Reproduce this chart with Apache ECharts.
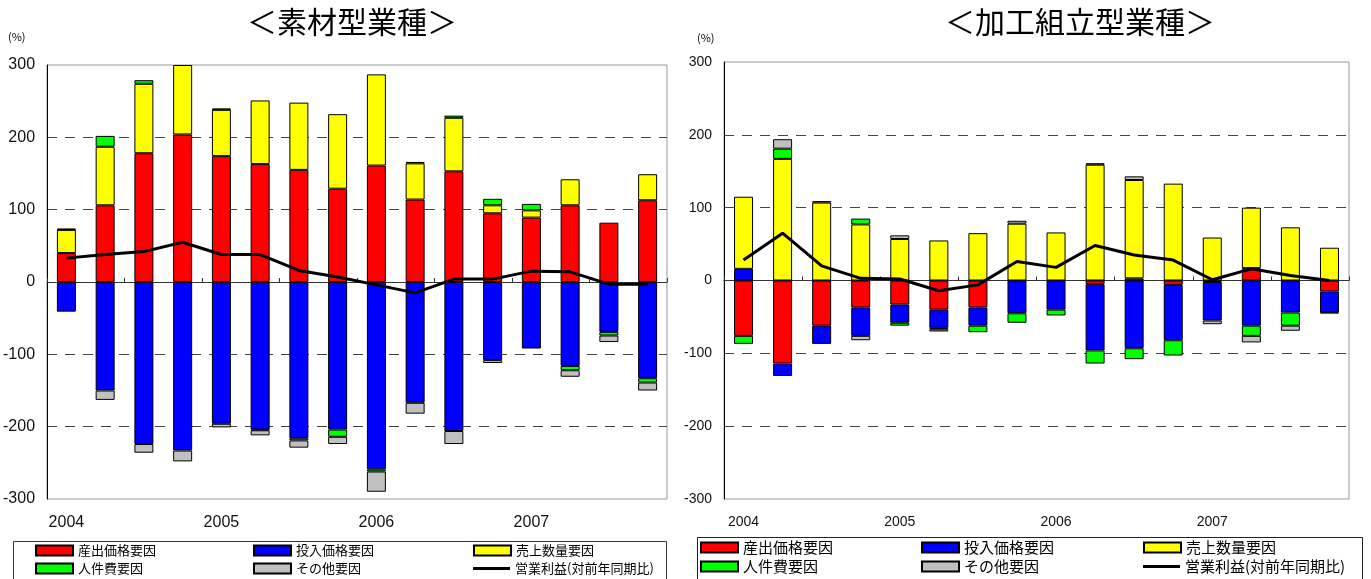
<!DOCTYPE html>
<html>
<head>
<meta charset="utf-8">
<script src="https://cdn.jsdelivr.net/npm/echarts@6/dist/echarts.min.js"></script>
<style>
  html, body { margin: 0; padding: 0; background: #fff; }
  #chart { width: 1371px; height: 579px; }
</style>
</head>
<body>
<div id="chart"></div>
<script>
// Quarterly periods, 2004 Q1 – 2007 Q4
const categories = [
  '2004Q1', '2004Q2', '2004Q3', '2004Q4',
  '2005Q1', '2005Q2', '2005Q3', '2005Q4',
  '2006Q1', '2006Q2', '2006Q3', '2006Q4',
  '2007Q1', '2007Q2', '2007Q3', '2007Q4'
];
const yTicks = { min: -300, max: 300, interval: 100 };

// Factor names (legend)
const factorNames = ['産出価格要因', '投入価格要因', '売上数量要因', '人件費要因', 'その他要因'];
const profitName = '営業利益(対前年同期比)';
const factorColors = ['#ff0000', '#0000ff', '#ffff00', '#00ff00', '#c0c0c0'];

// 素材型業種 (materials industries), contributions in %
const matOutputPrice = [40, 106, 178, 204, 174, 163, 155, 129, 161, 114, 153, 95, 89, 106, 82, 113];
const matInputPrice  = [-41, -150, -224, -233, -196, -204, -216, -204, -259, -167, -206, -108, -92, -116, -69, -133];
const matVolume      = [32, 81, 96, 96, 64, 88, 93, 103, 126, 50, 74, 11, 10, 36, 0, 36];
const matLabor       = [0, 15, 5, 0, 2, -1, -3, -10, -3, 2, 3, 9, 9, -6, -5, -6];
const matOther       = [2, -13, -12, -15, -5, -7, -10, -10, -28, -15, -18, -4, 0, -9, -9, -11];
const matProfit      = [33, 38, 42, 55, 38, 38, 16, 7, -4, -15, 4, 4, 15, 14, -3, -3];

// 加工組立型業種 (processing & assembly industries), contributions in %
const asmOutputPrice = [-76, -114, -62, -37, -33, -40, -37, 0, 0, -5, 3, -6, -2, 17, 0, -15];
const asmInputPrice  = [16, -17, -25, -39, -25, -25, -25, -45, -40, -91, -93, -76, -53, -62, -44, -29];
const asmVolume      = [99, 167, 107, 77, 57, 55, 65, 78, 66, 159, 135, 133, 59, 83, 73, 45];
const asmLabor       = [-11, 14, 0, 8, -4, -2, -9, -13, -8, -18, -15, -21, 0, -14, -18, 0];
const asmOther       = [0, 13, 2, -6, 5, -3, 0, 4, 0, 2, 5, 0, -5, -9, -7, -1];
const asmProfit      = [28, 65, 20, 3, 2, -14, -6, 26, 18, 48, 35, 28, 1, 16, 7, 0];

const JP = '"Noto Sans CJK JP", "Noto Sans", sans-serif';
const NUM = '"Liberation Sans", Arial, sans-serif';

const chart = echarts.init(document.getElementById('chart'), null, { renderer: 'canvas' });

function yearLabel(v) {
  return v.endsWith('Q1') ? v.slice(0, 4) : '';
}

function makeXAxes(gridIndex, fontSize) {
  return [
    { // year labels along the bottom of the plot
      type: 'category', gridIndex, data: categories, position: 'bottom',
      axisLine: { show: false, onZero: false }, axisTick: { show: false },
      axisLabel: { interval: 0, formatter: yearLabel, margin: 16, fontSize, fontFamily: NUM, color: '#111' }
    },
    { // zero line with quarter ticks
      type: 'category', gridIndex, data: categories, position: 'top',
      axisLine: { show: true, onZero: true, lineStyle: { color: '#333', width: 1 } },
      axisTick: { show: true, inside: false, length: 4, lineStyle: { color: '#333' } },
      axisLabel: { show: false }
    }
  ];
}

function makeYAxis(gridIndex, fontSize, margin) {
  return {
    type: 'value', gridIndex, min: yTicks.min, max: yTicks.max, interval: yTicks.interval,
    axisLine: { show: true, lineStyle: { color: '#000', width: 1 } },
    axisTick: { show: false },
    axisLabel: { fontSize, fontFamily: NUM, color: '#111', margin },
    splitLine: { show: true, showMinLine: false, showMaxLine: false,
      lineStyle: { color: '#444', width: 1, type: [10, 8] } }
  };
}

function makeSeries(gridIdx, stackId, factorData, profit) {
  const xIdx = gridIdx * 2 + 1;
  const out = factorData.map((arr, i) => ({
    type: 'bar', name: factorNames[i], stack: stackId,
    xAxisIndex: xIdx, yAxisIndex: gridIdx,
    barWidth: 19,
    itemStyle: { color: factorColors[i], borderColor: '#000', borderWidth: 1 },
    data: arr.map(v => (v === 0 ? '-' : v)),
    animation: false
  }));
  out.push({
    type: 'line', name: profitName, xAxisIndex: xIdx, yAxisIndex: gridIdx,
    data: profit, symbol: 'none', showSymbol: false, z: 10,
    lineStyle: { color: '#000', width: 3 }, itemStyle: { color: '#000' },
    animation: false
  });
  return out;
}

function legendItem(name, left, top, fontSize) {
  const item = {
    data: [name], left, top, padding: 0,
    itemWidth: 37, itemHeight: 10,
    icon: 'rect', selectedMode: false,
    textStyle: { fontSize, fontFamily: JP, color: '#000' }
  };
  if (name === profitName) {
    item.itemHeight = 3;
    item.itemStyle = { color: '#000', borderWidth: 0 };
  }
  return item;
}

const legendNames = factorNames.concat([profitName]);
const leftCols = [35, 253, 473];
const rightCols = [700, 921, 1143];
const legends = [];
// row layout: 産出/投入/売上 on row 1, 人件費/その他/営業利益 on row 2
legendNames.forEach((n, i) => {
  const col = i % 3, row = Math.floor(i / 3);
  legends.push(legendItem(n, leftCols[col], row === 0 ? 544 : 562, 13));
  legends.push(legendItem(n, rightCols[col], row === 0 ? 540 : 559, 15));
});

const option = {
  backgroundColor: '#fff',
  animation: false,
  grid: [
    { left: 44, top: 65, width: 623, height: 434, show: true, borderColor: '#999', borderWidth: 1, backgroundColor: '#fff' },
    { left: 724, top: 62, width: 625, height: 437, show: true, borderColor: '#999', borderWidth: 1, backgroundColor: '#fff' }
  ],
  xAxis: makeXAxes(0, 16).concat(makeXAxes(1, 14)),
  yAxis: [makeYAxis(0, 16, 12), makeYAxis(1, 14, 12)],
  legend: legends,
  graphic: [
    { type: 'text', style: { text: '＜素材型業種＞', x: 352, y: 22, align: 'center', verticalAlign: 'middle', fontSize: 30, fontFamily: JP, fill: '#000' } },
    { type: 'text', style: { text: '＜加工組立型業種＞', x: 1080, y: 22, align: 'center', verticalAlign: 'middle', fontSize: 30, fontFamily: JP, fill: '#000' } },
    { type: 'text', style: { text: '(%)', x: 8, y: 37, verticalAlign: 'middle', fontSize: 11, fontFamily: JP, fill: '#000' } },
    { type: 'text', style: { text: '(%)', x: 697, y: 38, verticalAlign: 'middle', fontSize: 11, fontFamily: JP, fill: '#000' } },
    { type: 'rect', shape: { x: 13.5, y: 541.5, width: 653, height: 45 }, style: { fill: 'none', stroke: '#333', lineWidth: 1 }, z: -1 },
    { type: 'rect', shape: { x: 697.5, y: 537.5, width: 665, height: 50 }, style: { fill: 'none', stroke: '#222', lineWidth: 1 }, z: -1 }
  ],
  series: []
    .concat(makeSeries(0, 'mat', [matOutputPrice, matInputPrice, matVolume, matLabor, matOther], matProfit))
    .concat(makeSeries(1, 'asm', [asmOutputPrice, asmInputPrice, asmVolume, asmLabor, asmOther], asmProfit))
};

chart.setOption(option);
</script>
</body>
</html>
